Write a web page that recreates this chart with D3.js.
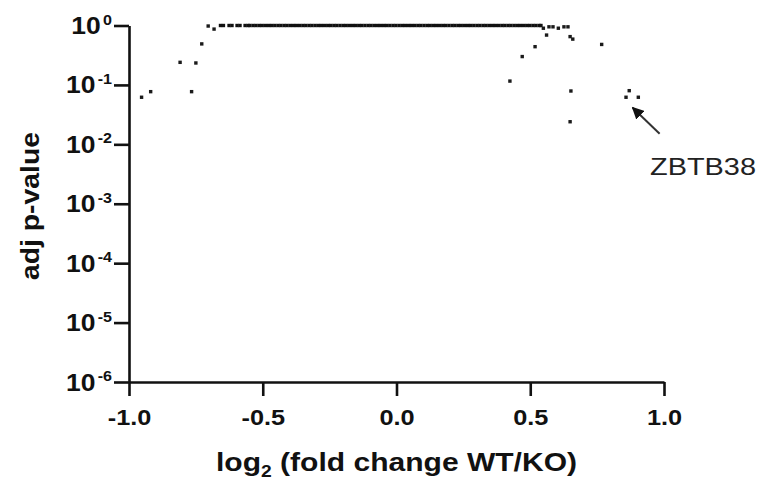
<!DOCTYPE html>
<html lang="en">
<head>
<meta charset="utf-8">
<title>Volcano plot</title>
<script src="https://cdnjs.cloudflare.com/ajax/libs/d3/7.8.5/d3.min.js"></script>
<style>
  body { margin: 0; background: #fff; }
  svg { display: block; font-family: "Liberation Sans", Arial, sans-serif; }
</style>
</head>
<body>
<div id="chart"></div>
<script>
// genes sitting at adj p-value = 1 (the dense flat band)
const flatX = [
  -0.658, -0.647, -0.626, -0.615, -0.596, -0.585, -0.566, -0.555,
  -0.548, -0.536, -0.525, -0.513, -0.502, -0.490, -0.478, -0.467, -0.455, -0.443,
  -0.432, -0.420, -0.409, -0.397, -0.385, -0.374, -0.362, -0.350, -0.339, -0.327,
  -0.316, -0.304, -0.292, -0.281, -0.269, -0.257, -0.246, -0.234, -0.223, -0.211,
  -0.199, -0.188, -0.176, -0.164, -0.153, -0.141, -0.130, -0.118, -0.106, -0.095,
  -0.083, -0.071, -0.060, -0.048, -0.037, -0.025, -0.013, -0.002, 0.010, 0.022,
  0.033, 0.045, 0.056, 0.068, 0.080, 0.091, 0.103, 0.115, 0.126, 0.138,
  0.149, 0.161, 0.173, 0.184, 0.196, 0.208, 0.219, 0.231, 0.242, 0.254,
  0.266, 0.277, 0.289, 0.301, 0.312, 0.324, 0.335, 0.347, 0.359, 0.370,
  0.382, 0.394, 0.405, 0.417, 0.428, 0.440, 0.452, 0.463, 0.475, 0.487,
  0.498, 0.510, 0.521, 0.533, 0.540
];

// remaining genes: log2 fold change and adj p-value
const geneFC = [
  -0.953, -0.919, -0.809, -0.750, -0.766, -0.728, -0.704, -0.682,
  0.549, 0.570, 0.585, 0.605, 0.626, 0.641, 0.561, 0.649, 0.659,
  0.518, 0.470, 0.424, 0.767, 0.652, 0.649,
  0.870, 0.858, 0.904
];
const geneP = [
  0.062, 0.077, 0.240, 0.234, 0.077, 0.490, 0.980, 0.870,
  0.900, 0.950, 0.950, 0.900, 0.950, 0.950, 0.690, 0.650, 0.590,
  0.440, 0.300, 0.116, 0.480, 0.079, 0.024,
  0.080, 0.062, 0.062
];

const xTicks = [-1.0, -0.5, 0.0, 0.5, 1.0];
const yExponents = [0, -1, -2, -3, -4, -5, -6];
const labelGene = "ZBTB38";
const labelAt = [0.879, 0.043];   // arrow tip, data coords

const W = 765, H = 481;
const stretch = 1.15;
const dot = 3.4;

const svg = d3.select("#chart").append("svg")
  .attr("width", W).attr("height", H);

const x = d3.scaleLinear().domain([-1, 1]).range([129, 664]);
const y = d3.scaleLog().domain([1e-6, 1]).range([382, 25.5]);

// axes
const xAxis = svg.append("g")
  .attr("transform", "translate(0," + y(1e-6) + ")")
  .call(d3.axisBottom(x).tickValues(xTicks).tickSize(14).tickSizeOuter(0)
    .tickFormat(d3.format(".1f")));

const yAxis = svg.append("g")
  .attr("transform", "translate(" + x(-1) + ",0)")
  .call(d3.axisLeft(y).tickValues(yExponents.map(e => Math.pow(10, e)))
    .tickSize(15).tickSizeOuter(0).tickFormat(""));

svg.selectAll(".domain, .tick line")
  .attr("stroke", "#111").attr("stroke-width", 2.6);

xAxis.selectAll(".tick text")
  .attr("y", 27).attr("dy", "0.71em")
  .attr("fill", "#111").attr("font-size", 22).attr("font-weight", "bold")
  .attr("font-family", "Liberation Sans, Arial, sans-serif")
  .attr("transform", "scale(" + stretch + ",1)")
  .text(d => d3.format(".1f")(d).replace("−", "-"));

// y labels as 10 with a superscript exponent
yAxis.selectAll(".tick text").remove();
yAxis.selectAll(".tick").each(function (d, i) {
  const t = d3.select(this).append("text")
    .attr("y", 8)
    .attr("fill", "#111").attr("font-weight", "bold")
    .attr("font-family", "Liberation Sans, Arial, sans-serif")
    .attr("text-anchor", "end")
    .attr("transform", "translate(-17,0) scale(" + stretch + ",1)");
  t.append("tspan").attr("font-size", 23).text("10");
  t.append("tspan").attr("dy", -9.5).attr("dx", 2).attr("font-size", 14)
    .text(String(yExponents[i]));
});

// points (small squares)
svg.append("g").selectAll("rect")
  .data(flatX)
  .join("rect")
  .attr("x", d => x(d) - dot / 2).attr("y", y(1) - dot / 2)
  .attr("width", dot).attr("height", dot).attr("fill", "#111");

svg.append("g").selectAll("rect")
  .data(geneFC)
  .join("rect")
  .attr("x", d => x(d) - dot / 2).attr("y", (d, i) => y(geneP[i]) - dot / 2)
  .attr("width", dot).attr("height", dot).attr("fill", "#1a1a1a");

// annotation arrow + label
const tipX = x(labelAt[0]), tipY = y(labelAt[1]);
svg.append("defs").append("marker")
  .attr("id", "head").attr("viewBox", "0 0 10 10")
  .attr("refX", 9).attr("refY", 5)
  .attr("markerWidth", 6).attr("markerHeight", 6)
  .attr("orient", "auto-start-reverse")
  .append("path").attr("d", "M0,0 L10,5 L0,10 z").attr("fill", "#111");

svg.append("line")
  .attr("x1", tipX + 28).attr("y1", tipY + 27)
  .attr("x2", tipX + 1).attr("y2", tipY + 1)
  .attr("stroke", "#333").attr("stroke-width", 2)
  .attr("marker-end", "url(#head)");

svg.append("text")
  .attr("x", 650).attr("y", 175)
  .attr("font-size", 23).attr("fill", "#222")
  .attr("textLength", 106).attr("lengthAdjust", "spacingAndGlyphs")
  .text(labelGene);

// axis titles
const xt = svg.append("text")
  .attr("x", 216).attr("y", 471)
  .attr("font-size", 25).attr("font-weight", "bold").attr("fill", "#111")
  .attr("textLength", 361).attr("lengthAdjust", "spacingAndGlyphs");
xt.append("tspan").text("log");
xt.append("tspan").attr("font-size", 16).attr("dy", 6).text("2");
xt.append("tspan").attr("dy", -6).text(" (fold change WT/KO)");

svg.append("text")
  .attr("transform", "translate(39,206) rotate(-90)")
  .attr("text-anchor", "middle")
  .attr("font-size", 25).attr("font-weight", "bold").attr("fill", "#111")
  .attr("textLength", 148).attr("lengthAdjust", "spacingAndGlyphs")
  .text("adj p-value");
</script>
</body>
</html>
